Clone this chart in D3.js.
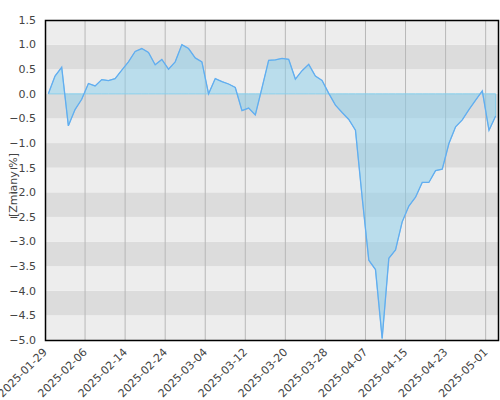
<!DOCTYPE html>
<html>
<head>
<meta charset="utf-8">
<script src="https://cdn.jsdelivr.net/npm/d3@7"></script>
<style>
  body { margin: 0; background: #fff; }
  text { font-family: "DejaVu Sans", sans-serif; fill: #444; }
</style>
</head>
<body>
<div id="chart"></div>
<script>
(function(){

  const dates =
    ['2025-01-29','2025-01-30','2025-01-31','2025-02-03','2025-02-04','2025-02-05',
     '2025-02-06','2025-02-07','2025-02-10','2025-02-11','2025-02-12','2025-02-13',
     '2025-02-14','2025-02-17','2025-02-18','2025-02-19','2025-02-20','2025-02-21',
     '2025-02-24','2025-02-25','2025-02-26','2025-02-27','2025-02-28','2025-03-03',
     '2025-03-04','2025-03-05','2025-03-06','2025-03-07','2025-03-10','2025-03-11',
     '2025-03-12','2025-03-13','2025-03-14','2025-03-17','2025-03-18','2025-03-19',
     '2025-03-20','2025-03-21','2025-03-24','2025-03-25','2025-03-26','2025-03-27',
     '2025-03-28','2025-03-31','2025-04-01','2025-04-02','2025-04-03','2025-04-04',
     '2025-04-07','2025-04-08','2025-04-09','2025-04-10','2025-04-11','2025-04-14',
     '2025-04-15','2025-04-16','2025-04-17','2025-04-18','2025-04-21','2025-04-22',
     '2025-04-23','2025-04-24','2025-04-25','2025-04-28','2025-04-29','2025-04-30',
     '2025-05-01','2025-05-02']

  const changes =
    [0.00, 0.36, 0.54, -0.65, -0.32, -0.11, 0.21, 0.16, 0.29, 0.27,
     0.31, 0.48, 0.65, 0.86, 0.92, 0.84, 0.59, 0.70, 0.50, 0.65,
     1.00, 0.92, 0.73, 0.65, 0.00, 0.31, 0.25, 0.20, 0.13, -0.34,
     -0.29, -0.43, 0.12, 0.68, 0.69, 0.72, 0.70, 0.30, 0.47, 0.60,
     0.36, 0.27, 0.01, -0.23, -0.38, -0.52, -0.74, -2.10, -3.38, -3.57,
     -4.97, -3.34, -3.17, -2.60, -2.28, -2.10, -1.80, -1.80, -1.56, -1.53,
     -1.01, -0.67, -0.53, -0.32, -0.13, 0.06, -0.74, -0.45]

  const yTicks = d3.range(-5, 1.51, 0.5)
  const tickEvery = 6

  const W = 500, H = 400
  const m = { top: 20, right: 1, bottom: 60, left: 45 }

  const svg = d3.select('#chart').append('svg')
      .attr('width', W).attr('height', H)

  const x = d3.scaleBand().domain(dates).range([m.left, W - m.right])
  const y = d3.scaleLinear().domain([-5, 1.5]).range([H - m.bottom, m.top])
  const cx = d => x(d) + x.bandwidth() / 2

  // background bands
  svg.append('g').selectAll('rect').data(yTicks.slice(0, -1)).enter()
    .append('rect')
      .attr('x', m.left).attr('width', W - m.right - m.left)
      .attr('y', d => y(d + 0.5)).attr('height', d => y(d) - y(d + 0.5))
      .attr('fill', (d, i) => i % 2 === 0 ? '#ededed' : '#dcdcdc')

  // vertical grid lines at every 6th date
  const tickDates = dates.filter((d, i) => i % tickEvery === 0)
  svg.append('g').selectAll('line').data(tickDates.slice(1)).enter()
    .append('line')
      .attr('x1', d => x(d)).attr('x2', d => x(d))
      .attr('y1', m.top).attr('y2', H - m.bottom)
      .attr('stroke', '#b8b8b8').attr('stroke-width', 1)

  const area = d3.area()
      .x((d, i) => cx(dates[i])).y0(y(0)).y1(d => y(d))
  svg.append('path').datum(changes)
      .attr('d', area)
      .attr('fill', 'rgba(135,206,235,0.5)')
      .attr('stroke', '#87ceeb').attr('stroke-width', 1)

  const line = d3.line().x((d, i) => cx(dates[i])).y(d => y(d))
  svg.append('path').datum(changes)
      .attr('d', line)
      .attr('fill', 'none')
      .attr('stroke', '#62adf0').attr('stroke-width', 1.3)

  // frame
  svg.append('rect')
      .attr('x', m.left + 0.5).attr('y', m.top + 0.5)
      .attr('width', W - m.right - m.left - 1).attr('height', H - m.bottom - m.top)
      .attr('fill', 'none').attr('stroke', '#000').attr('stroke-width', 1.5)

  // y tick labels
  svg.append('g').selectAll('text').data(yTicks).enter()
    .append('text')
      .attr('x', 36).attr('y', d => y(d)).attr('dy', '0.35em')
      .attr('text-anchor', 'end').attr('font-size', '11px')
      .text(d => d3.format('.1f')(d))

  // x tick labels
  svg.append('g').selectAll('text').data(tickDates).enter()
    .append('text')
      .attr('transform', d => `translate(${x(d)},${H - m.bottom + 10}) rotate(-45)`)
      .attr('text-anchor', 'end').attr('dy', '0.35em').attr('font-size', '11px')
      .text(d => d)

  svg.append('text')
      .attr('transform', `translate(13,185) rotate(-90)`)
      .attr('text-anchor', 'middle').attr('dy', '0.35em').attr('font-size', '11px')
      .text('[Zmiany %]')

})()
</script>
</body>
</html>
